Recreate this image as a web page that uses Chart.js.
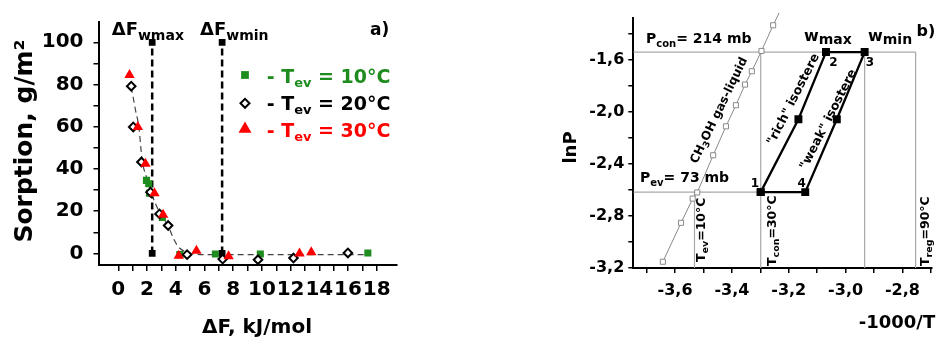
<!DOCTYPE html>
<html>
<head>
<meta charset="utf-8">
<script src="https://cdn.jsdelivr.net/npm/chart.js@4.4.1/dist/chart.umd.min.js"></script>
<style>
  html, body { margin: 0; padding: 0; background: #fff; }
  #wrap { position: relative; width: 941px; height: 338px; }
  canvas { position: absolute; top: 0; }
  #sorption { left: 0; }
  #isosteres { left: 470px; }
</style>
</head>
<body>
<div id="wrap">
  <canvas id="sorption" width="470" height="338"></canvas>
  <canvas id="isosteres" width="471" height="338"></canvas>
</div>
<script>
// a) sorption vs. adsorption potential, three evaporator temperatures
const dF10 = [1.96, 2.12, 2.17, 3.07, 4.28, 6.76, 9.89, 17.38];
const sorp10 = [34.6, 33.0, 28.5, 17.0, -0.6, -0.3, -0.3, 0.2];
const dF20 = [0.90, 1.04, 1.61, 2.24, 2.87, 3.47, 4.79, 7.27, 9.73, 12.2, 15.99];
const sorp20 = [79.2, 59.9, 43.3, 29.0, 18.7, 13.2, -0.6, -2.7, -3.0, -2.2, 0.2];
const dF30 = [0.78, 1.36, 1.89, 2.52, 3.12, 4.21, 5.44, 7.68, 12.62, 13.44];
const sorp30 = [84.5, 59.9, 42.5, 28.5, 18.3, -1.1, 1.3, -1.4, 0.0, 0.5];
// characteristic curve drawn through the points
const fitDF = [0.90, 1.20, 1.43, 1.66, 1.96, 2.24, 2.59, 2.93, 3.51, 3.86, 4.21, 4.79, 6, 9, 12, 15, 17.4];
const fitSorp = [78.9, 67.8, 59.9, 44.1, 36.1, 29.8, 23.5, 18.7, 12.4, 6.8, 2.9, 0.5, -0.6, -0.6, -0.6, -0.6, -0.6];
const dFwmax = 2.36, dFwmin = 7.23;
const dFTicks = [0, 1, 2, 3, 4, 5, 6, 7, 8, 9, 10, 11, 12, 13, 14, 15, 16, 17, 18];
const sorpTicks = [0, 10, 20, 30, 40, 50, 60, 70, 80, 90, 100];

// b) Clapeyron diagram of the methanol cycle
const satInvT = [-3.643, -3.579, -3.538, -3.522, -3.466, -3.421, -3.386, -3.354, -3.330, -3.296, -3.255, -3.234];
const satLnP = [-3.152, -2.853, -2.667, -2.620, -2.334, -2.112, -1.950, -1.791, -1.689, -1.533, -1.336, -1.241];
const Pcon = 214, Pev = 73;            // mbar
const Tev = 10, Tcon = 30, Treg = 90;  // °C
const x2 = -3.069, x3 = -2.933, x4 = -3.142;
const richMid = [-3.166, -2.058], weakMid = [-3.031, -2.058];
const invTTicks = [-3.7, -3.6, -3.5, -3.4, -3.3, -3.2, -3.1, -3.0, -2.9, -2.8, -2.7];
const lnPTicks = [-3.2, -3.0, -2.8, -2.6, -2.4, -2.2, -2.0, -1.8, -1.6, -1.4];

const FAMILY = '"DejaVu Sans", sans-serif';
const fontStr = size => `bold ${size}px ${FAMILY}`;
const pts = (xs, ys) => xs.map((x, i) => ({ x, y: ys[i] }));
const invT = t => -1000 / (t + 273.15);

// text with optional subscript parts: parts = [[text, 'sub'?], ...]
function drawRich(ctx, parts, x, y, o) {
  const size = o.size, sub = o.sub || Math.round(size * 0.72);
  ctx.save();
  ctx.translate(x, y);
  if (o.angle) ctx.rotate(o.angle * Math.PI / 180);
  ctx.fillStyle = o.color || '#000';
  ctx.textAlign = 'left';
  ctx.textBaseline = 'alphabetic';
  const w = parts.map(([t, k]) => { ctx.font = fontStr(k ? sub : size); return ctx.measureText(t).width; });
  const total = w.reduce((a, b) => a + b, 0);
  let cx = o.align === 'center' ? -total / 2 : 0;
  const base = o.middle ? size * 0.36 : 0;
  parts.forEach(([t, k], i) => {
    ctx.font = fontStr(k ? sub : size);
    ctx.fillText(t, cx, base + (k ? (o.drop !== undefined ? o.drop : size * 0.25) : 0));
    cx += w[i];
  });
  ctx.restore();
}

const textLayer = items => ({
  id: 'textLayer',
  afterDraw(chart) {
    items.forEach(it => drawRich(chart.ctx, it.parts, it.x, it.y, it));
  }
});

const tickFont = size => ({ family: FAMILY, weight: 'bold', size });
const axisGrid = len => ({ drawOnChartArea: false, drawTicks: true, tickLength: len, color: '#000', lineWidth: 1.5 });
const axisBorder = { color: '#000', width: 2 };

// ---------- panel a ----------
const green = '#1e8c1e', red = '#ff0000';

const legendRows = [
  { ds: 2, r: 5.5, my: 75, y: 83.3, label: '10°C', color: green },
  { ds: 3, r: 4.5, my: 103.3, y: 110, label: '20°C', color: '#000' },
  { ds: 4, r: 7.5, my: 129, y: 136.7, label: '30°C', color: red }
];

const legendLayer = {
  id: 'legendLayer',
  afterDraw(chart) {
    const ctx = chart.ctx;
    legendRows.forEach(row => {
      const ds = chart.data.datasets[row.ds];
      ctx.save();
      ctx.fillStyle = ds.pointBackgroundColor;
      ctx.strokeStyle = ds.pointBorderColor;
      ctx.lineWidth = ds.pointBorderWidth;
      Chart.helpers.drawPoint(ctx, { pointStyle: ds.pointStyle, radius: row.r, rotation: 0, borderWidth: ds.pointBorderWidth }, 245, row.my);
      ctx.restore();
      drawRich(ctx, [['- T'], ['ev', 'sub'], [' = ' + row.label]], 266.7, row.y, { size: 19, sub: 13, drop: 4, color: row.color });
    });
  }
};

new Chart(document.getElementById('sorption'), {
  type: 'scatter',
  data: {
    datasets: [
      {
        data: pts(fitDF, fitSorp), showLine: true, cubicInterpolationMode: 'monotone',
        borderColor: '#444', borderWidth: 1.2, borderDash: [6, 4], pointRadius: 0, order: 6
      },
      {
        data: [{ x: dFwmax, y: 0 }, { x: dFwmax, y: 100 }, { x: null, y: null }, { x: dFwmin, y: 0 }, { x: dFwmin, y: 100 }],
        showLine: true, spanGaps: false, borderColor: '#000', borderWidth: 2.5, borderDash: [7, 4],
        pointStyle: 'rect', pointRadius: 3, pointBackgroundColor: '#000', pointBorderColor: '#000', order: 5
      },
      {
        data: pts(dF10, sorp10), pointStyle: 'rect', pointRadius: 5,
        pointBackgroundColor: green, pointBorderColor: green, pointBorderWidth: 0, order: 4
      },
      {
        data: pts(dF20, sorp20), pointStyle: 'rectRot', pointRadius: 4.3,
        pointBackgroundColor: '#fff', pointBorderColor: '#000', pointBorderWidth: 2, order: 3
      },
      {
        data: pts(dF30, sorp30), pointStyle: 'triangle', pointRadius: 6,
        pointBackgroundColor: red, pointBorderColor: red, pointBorderWidth: 0, order: 2
      }
    ]
  },
  options: {
    responsive: false, animation: false, devicePixelRatio: 1,
    layout: { padding: { left: 0, right: 73, top: 22, bottom: 0 } },
    plugins: { legend: { display: false }, tooltip: { enabled: false } },
    scales: {
      x: {
        type: 'linear', min: -1.38, max: 19.41,
        afterBuildTicks: s => { s.ticks = dFTicks.map(v => ({ value: v })); },
        afterFit: s => { s.height = 73; },
        ticks: { autoSkip: false, maxRotation: 0, padding: 7, color: '#000', font: tickFont(20),
                 callback: v => (v % 2 === 0 ? String(v) : '') },
        grid: axisGrid(6), border: axisBorder
      },
      y: {
        type: 'linear', min: -5.5, max: 109.6,
        afterBuildTicks: s => { s.ticks = sorpTicks.map(v => ({ value: v })); },
        afterFit: s => { s.width = 98.5; },
        ticks: { autoSkip: false, padding: 10, color: '#000', font: tickFont(20),
                 callback: v => (v % 20 === 0 ? String(v) : '') },
        grid: axisGrid(5), border: axisBorder
      }
    }
  },
  plugins: [legendLayer, textLayer([
    { parts: [['ΔF'], ['wmax', 'sub']], x: 111.7, y: 35, size: 18, sub: 14, drop: 4.5 },
    { parts: [['ΔF'], ['wmin', 'sub']], x: 200, y: 35, size: 18, sub: 14, drop: 4.5 },
    { parts: [['a)']], x: 370, y: 35, size: 17 },
    { parts: [['Sorption, g/m²']], x: 22.5, y: 141, size: 25, angle: -90, align: 'center', middle: true },
    { parts: [['ΔF, kJ/mol']], x: 257, y: 333, size: 20, align: 'center' }
  ])]
});

// ---------- panel b ----------
const lnPcon = Math.log(Pcon / 1000), lnPev = Math.log(Pev / 1000);
const x1 = invT(Tcon);
const xMinB = -3.747, xMaxB = -2.696, yMinB = -3.2, yMaxB = -1.28;
const guideColor = '#a8a8a8';
const guide = (a, b) => ({
  data: [a, b], showLine: true, borderColor: guideColor, borderWidth: 1.2, pointRadius: 0, order: 5
});

new Chart(document.getElementById('isosteres'), {
  type: 'scatter',
  data: {
    datasets: [
      guide({ x: xMinB, y: lnPcon }, { x: invT(Treg), y: lnPcon }),
      guide({ x: xMinB, y: lnPev }, { x: x1, y: lnPev }),
      guide({ x: invT(Tev), y: yMinB }, { x: invT(Tev), y: lnPev }),
      guide({ x: x1, y: yMinB }, { x: x1, y: lnPcon }),
      guide({ x: x3, y: yMinB }, { x: x3, y: lnPcon }),
      guide({ x: invT(Treg), y: yMinB }, { x: invT(Treg), y: lnPcon }),
      {
        data: pts(satInvT, satLnP), showLine: true, clip: false,
        borderColor: '#8a8a8a', borderWidth: 1, pointStyle: 'rect', pointRadius: 3.6,
        pointBackgroundColor: '#fff', pointBorderColor: '#8a8a8a', pointBorderWidth: 1, order: 2
      },
      {
        data: pts([x1, richMid[0], x2, x3, weakMid[0], x4, x1], [lnPev, richMid[1], lnPcon, lnPcon, weakMid[1], lnPev, lnPev]),
        showLine: true, borderColor: '#000', borderWidth: 2.3, pointStyle: 'rect', pointRadius: 4,
        pointBackgroundColor: '#000', pointBorderColor: '#000', order: 1
      }
    ]
  },
  options: {
    responsive: false, animation: false, devicePixelRatio: 1,
    layout: { padding: { left: 0, right: 9, top: 18, bottom: 0 } },
    plugins: { legend: { display: false }, tooltip: { enabled: false } },
    scales: {
      x: {
        type: 'linear', min: xMinB, max: xMaxB,
        afterBuildTicks: s => { s.ticks = invTTicks.map(v => ({ value: v })); },
        afterFit: s => { s.height = 70; },
        ticks: { autoSkip: false, maxRotation: 0, padding: 8, color: '#000', font: tickFont(16),
                 callback: v => (Math.round(v * 10) % 2 === 0 ? v.toFixed(1).replace('.', ',') : '') },
        grid: axisGrid(5), border: axisBorder
      },
      y: {
        type: 'linear', min: yMinB, max: yMaxB,
        afterBuildTicks: s => { s.ticks = lnPTicks.map(v => ({ value: v })); },
        afterFit: s => { s.width = 163.3; },
        ticks: { autoSkip: false, padding: 4, color: '#000', font: tickFont(16),
                 callback: v => (Math.round(v * 10) % 4 === 0 ? v.toFixed(1).replace('.', ',') : '') },
        grid: axisGrid(5), border: axisBorder
      }
    }
  },
  plugins: [textLayer([
    { parts: [['P'], ['con', 'sub'], ['= 214 mb']], x: 176, y: 43, size: 14, sub: 10, drop: 3.5 },
    { parts: [['P'], ['ev', 'sub'], ['= 73 mb']], x: 170, y: 182, size: 14, sub: 10, drop: 3.5 },
    { parts: [['w'], ['max', 'sub']], x: 334, y: 41, size: 16, sub: 14, drop: 3 },
    { parts: [['w'], ['min', 'sub']], x: 398, y: 41, size: 16, sub: 14, drop: 3 },
    { parts: [['b)']], x: 446.5, y: 36, size: 16 },
    { parts: [['1']], x: 285, y: 187.4, size: 12, align: 'center' },
    { parts: [['4']], x: 331.7, y: 187.4, size: 12, align: 'center' },
    { parts: [['2']], x: 363.3, y: 66, size: 12, align: 'center' },
    { parts: [['3']], x: 400, y: 66, size: 12, align: 'center' },
    { parts: [['CH'], ['3', 'sub'], ['OH gas-liquid']], x: 248.3, y: 110, size: 12, sub: 9, drop: 3, angle: -64.2, align: 'center', middle: true },
    { parts: [['"rich" isostere']], x: 322.5, y: 99, size: 12.5, angle: -63, align: 'center', middle: true },
    { parts: [['"weak" isostere']], x: 357.5, y: 119, size: 12.5, angle: -63, align: 'center', middle: true },
    { parts: [['T'], ['ev', 'sub'], ['=10°C']], x: 234.5, y: 262, size: 12.5, sub: 9.5, drop: 3, angle: -90 },
    { parts: [['T'], ['con', 'sub'], ['=30°C']], x: 305.5, y: 266, size: 12.5, sub: 9.5, drop: 3, angle: -90 },
    { parts: [['T'], ['reg', 'sub'], ['=90°C']], x: 459, y: 266, size: 12.5, sub: 9.5, drop: 3, angle: -90 },
    { parts: [['lnP']], x: 100, y: 147.5, size: 18, angle: -90, align: 'center', middle: true },
    { parts: [['-1000/T']], x: 427, y: 328, size: 18, align: 'center' }
  ])]
});
</script>
</body>
</html>
